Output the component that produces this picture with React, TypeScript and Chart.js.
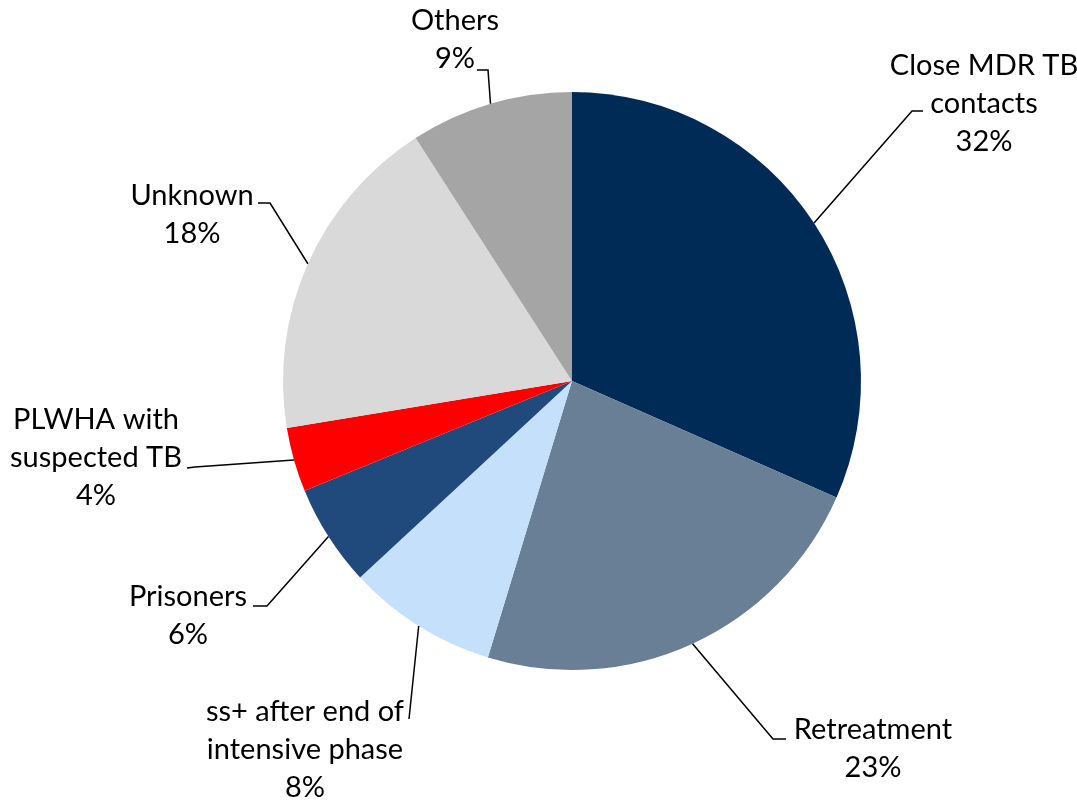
import React, { useEffect, useRef } from "react";
import { Chart, registerables } from "chart.js";

Chart.register(...registerables);

const categories = [
  "Close MDR TB contacts",
  "Retreatment",
  "ss+ after end of intensive phase",
  "Prisoners",
  "PLWHA with suspected TB",
  "Unknown",
  "Others",
];
const labelLines = [
  ["Close MDR TB", "contacts"],
  ["Retreatment"],
  ["ss+ after end of", "intensive phase"],
  ["Prisoners"],
  ["PLWHA with", "suspected TB"],
  ["Unknown"],
  ["Others"],
];
const shares = [31.6, 23.1, 8.4, 5.7, 3.6, 18.5, 9.1];
const percentLabels = ["32%", "23%", "8%", "6%", "4%", "18%", "9%"];
const colors = ["#002B57", "#687F96", "#C4E0FA", "#214A7C", "#FF0000", "#D9D9D9", "#A5A5A5"];

// Label placement relative to the pie centre, in px of a 289px reference radius
const REF_R = 289;
const labelLayout = [
  { text: [412, -277], elbow: [340, -270], end: [351, -270] },
  { text: [301, 368], elbow: [201, 358], end: [214, 358] },
  { text: [-267, 369], elbow: [-163, 338], end: [-163, 338] },
  { text: [-384, 235], elbow: [-305, 225], end: [-319, 225] },
  { text: [-476, 77], elbow: [-377, 86], end: [-385, 87] },
  { text: [-380, -166], elbow: [-302, -178], end: [-314, -178] },
  { text: [-117, -341], elbow: [-84, -311], end: [-95, -311] },
];

const FONT_FAMILY = "Lato, 'Liberation Sans', sans-serif";

const labelPlugin = {
  id: "pieLabels",
  afterDatasetsDraw(chart: any) {
    const ctx = chart.ctx;
    const meta = chart.getDatasetMeta(0);
    ctx.save();
    meta.data.forEach((arc: any, i: number) => {
      const p = arc.getProps(["x", "y", "startAngle", "endAngle", "outerRadius"], true);
      const s = p.outerRadius / REF_R;
      const mid = (p.startAngle + p.endAngle) / 2;
      const ax = p.x + Math.cos(mid) * p.outerRadius;
      const ay = p.y + Math.sin(mid) * p.outerRadius;
      const L = labelLayout[i];
      ctx.strokeStyle = "#000";
      ctx.lineWidth = 1.5;
      ctx.beginPath();
      ctx.moveTo(ax, ay);
      ctx.lineTo(p.x + L.elbow[0] * s, p.y + L.elbow[1] * s);
      ctx.lineTo(p.x + L.end[0] * s, p.y + L.end[1] * s);
      ctx.stroke();

      const lines = [...labelLines[i], percentLabels[i]];
      const lh = 38 * s;
      const tx = p.x + L.text[0] * s;
      const ty = p.y + L.text[1] * s;
      ctx.fillStyle = "#000";
      ctx.font = `${Math.round(29 * s)}px ${FONT_FAMILY}`;
      ctx.textAlign = "center";
      ctx.textBaseline = "middle";
      lines.forEach((ln, k) => {
        ctx.fillText(ln, tx, ty + (k - (lines.length - 1) / 2) * lh);
      });
    });
    ctx.restore();
  },
};

export default function App() {
  const ref = useRef<HTMLCanvasElement | null>(null);
  useEffect(() => {
    if (!ref.current) return;
    const chart = new Chart(ref.current, {
      type: "pie",
      data: {
        labels: categories,
        datasets: [
          {
            data: shares,
            backgroundColor: colors,
            borderWidth: 0,
          },
        ],
      },
      options: {
        animation: false,
        responsive: false,
        layout: { padding: { left: 283, right: 216, top: 92, bottom: 131 } },
        plugins: {
          legend: { display: false },
          tooltip: { enabled: false },
        },
      },
      plugins: [labelPlugin],
    });
    return () => chart.destroy();
  }, []);
  return (
    <div style={{ position: "fixed", left: 0, top: 0, width: 1077, height: 801, background: "#fff" }}>
      <canvas ref={ref} width={1077} height={801} />
    </div>
  );
}
